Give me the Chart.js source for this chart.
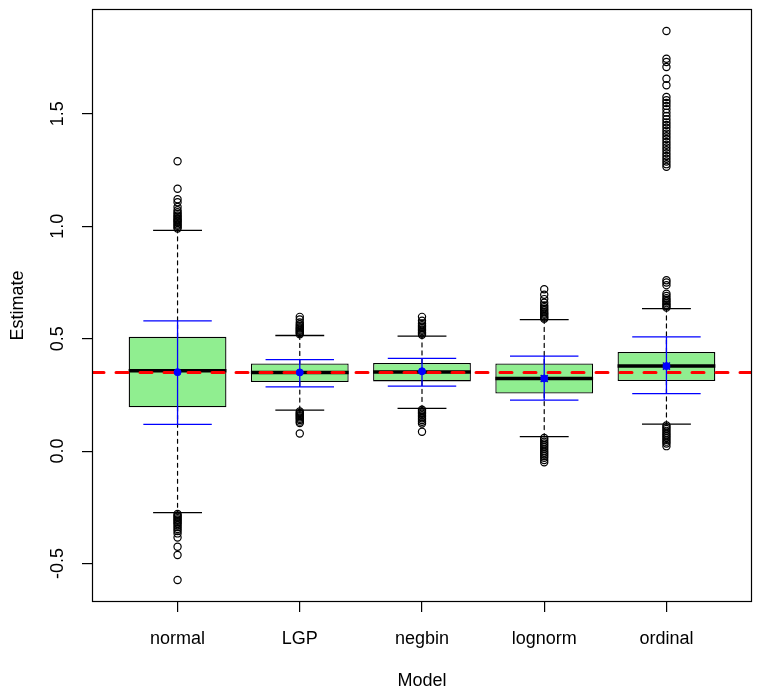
<!DOCTYPE html>
<html>
<head>
<meta charset="utf-8">
<script src="https://cdn.jsdelivr.net/npm/chart.js@4.4.1/dist/chart.umd.min.js"></script>
<style>
  body { margin: 0; background: #fff; }
</style>
</head>
<body>
<canvas id="chart" width="762" height="695"></canvas>
<script>
// values
const models = ["normal", "LGP", "negbin", "lognorm", "ordinal"];
const q1 = [0.195, 0.307, 0.310, 0.256, 0.312];
const medians = [0.357, 0.350, 0.352, 0.323, 0.378];
const q3 = [0.508, 0.390, 0.392, 0.390, 0.441];
const whiskerLow = [-0.274, 0.182, 0.190, 0.064, 0.120];
const whiskerHigh = [0.982, 0.514, 0.511, 0.585, 0.634];
const means = [0.351, 0.350, 0.355, 0.323, 0.378];
const sdLow = [0.119, 0.286, 0.289, 0.227, 0.256];
const sdHigh = [0.579, 0.407, 0.412, 0.422, 0.508];
const crossMarked = [false, false, false, true, true];
const trueValue = 0.35;
const yTicks = [-0.5, 0.0, 0.5, 1.0, 1.5];

const outNormal = [1.289, 1.167, 1.120, 1.107, 1.086, 1.071, 1.062, 1.055, 1.048, 1.042,
  1.036, 1.030, 1.025, 1.020, 1.014, 1.008, 1.002, 0.996, 0.990,
  -0.280, -0.286, -0.292, -0.298, -0.304, -0.310, -0.316, -0.322, -0.330, -0.338,
  -0.346, -0.355, -0.366, -0.384, -0.425, -0.462, -0.573];
const outLGP = [0.597, 0.585, 0.572, 0.563, 0.556, 0.550, 0.545, 0.540, 0.535, 0.530,
  0.525, 0.520, 0.176, 0.170, 0.165, 0.160, 0.155, 0.150, 0.144, 0.138, 0.131, 0.125, 0.078];
const outNegbin = [0.597, 0.580, 0.568, 0.560, 0.553, 0.547, 0.541, 0.535, 0.529, 0.523,
  0.517, 0.184, 0.178, 0.172, 0.166, 0.160, 0.153, 0.146, 0.138, 0.130, 0.123, 0.086];
const outLognorm = [0.720, 0.695, 0.676, 0.660, 0.648, 0.640, 0.632, 0.625, 0.618, 0.612,
  0.606, 0.600, 0.594, 0.589, 0.058, 0.050, 0.042, 0.034, 0.026, 0.018, 0.010, 0.002,
  -0.006, -0.014, -0.022, -0.030, -0.040, -0.050];
const outOrdinal = [1.868, 1.745, 1.730, 1.708, 1.656, 1.627, 1.575, 1.560, 1.548, 1.535,
  1.520, 1.505, 1.490, 1.476, 1.462, 1.450, 1.438, 1.425, 1.412, 1.400, 1.388, 1.375,
  1.362, 1.350, 1.338, 1.325, 1.312, 1.300, 1.288, 1.276, 1.264,
  0.760, 0.750, 0.738, 0.700, 0.690, 0.680, 0.672, 0.665, 0.658, 0.651, 0.644, 0.638,
  0.114, 0.106, 0.098, 0.090, 0.082, 0.074, 0.066, 0.058, 0.050, 0.042, 0.034, 0.022];
const outliers = [outNormal, outLGP, outNegbin, outLognorm, outOrdinal];

// R-style axis ranges (4% padding)
const xMin = 0.3, xMax = 5.7;
const yMin = -0.671, yMax = 1.966;

const pos = models.map((m, i) => i + 1);

// helper: list of segments -> points with null gaps
function segments(list) {
  const pts = [];
  list.forEach(s => {
    pts.push({ x: s[0], y: s[1] }, { x: s[2], y: s[3] }, { x: s[2], y: null });
  });
  return pts;
}

function lineSet(data, color, width, dash, order) {
  return {
    type: "line",
    data: data,
    borderColor: color,
    borderWidth: width,
    borderDash: dash || [],
    borderCapStyle: dash ? "round" : "butt",
    pointRadius: 0,
    fill: false,
    spanGaps: false,
    tension: 0,
    order: order
  };
}

const medianSegs = segments(pos.map((x, i) => [x - 0.4, medians[i], x + 0.4, medians[i]]));
const whiskerSegs = segments(pos.flatMap((x, i) => [
  [x, q3[i], x, whiskerHigh[i]],
  [x, q1[i], x, whiskerLow[i]]
]));
const capSegs = segments(pos.flatMap((x, i) => [
  [x - 0.2, whiskerHigh[i], x + 0.2, whiskerHigh[i]],
  [x - 0.2, whiskerLow[i], x + 0.2, whiskerLow[i]]
]));
const sdSegs = segments(pos.flatMap((x, i) => [
  [x, sdLow[i], x, sdHigh[i]],
  [x - 0.28, sdLow[i], x + 0.28, sdLow[i]],
  [x - 0.28, sdHigh[i], x + 0.28, sdHigh[i]]
]));
const refSeg = [{ x: xMin, y: trueValue }, { x: xMax, y: trueValue }];

const outlierPts = pos.flatMap((x, i) => outliers[i].map(v => ({ x: x, y: v })));
const meanPts = pos.map((x, i) => ({ x: x, y: means[i] }));
const crossPts = pos.filter((x, i) => crossMarked[i]).map(x => ({ x: x, y: means[x - 1] }));

// frame around the plot area, like R's box()
const framePlugin = {
  id: "frame",
  afterDatasetsDraw(chart) {
    const a = chart.chartArea;
    const ctx = chart.ctx;
    ctx.save();
    ctx.strokeStyle = "#000";
    ctx.lineWidth = 1.2;
    ctx.strokeRect(Math.round(a.left) + 0.5, Math.round(a.top) + 0.5,
      Math.round(a.right - a.left) - 1, Math.round(a.bottom - a.top) - 1);
    ctx.restore();
  }
};

// drop the label overhang padding so the plot box sits where R puts it
function noOverhang(scale) {
  scale.paddingTop = 0;
  scale.paddingBottom = 0;
  scale.paddingLeft = 0;
  scale.paddingRight = 0;
}

Chart.defaults.font.family = "'Liberation Sans', Arial, sans-serif";
Chart.defaults.font.size = 18;
Chart.defaults.color = "#000";

new Chart(document.getElementById("chart"), {
  type: "scatter",
  data: {
    datasets: [
      {
        type: "scatter",
        data: meanPts,
        pointStyle: "circle",
        pointRadius: 3.5,
        pointBackgroundColor: "#0000FF",
        pointBorderColor: "#0000FF",
        order: 0
      },
      {
        type: "scatter",
        data: crossPts,
        pointStyle: "crossRot",
        pointRadius: 5,
        pointBorderColor: "#1010B0",
        pointBorderWidth: 1.5,
        order: 0
      },
      lineSet(sdSegs, "#0000FF", 1.3, null, 1),
      lineSet(refSeg, "#FF0000", 3, [12, 12], 2),
      {
        type: "scatter",
        data: outlierPts,
        pointStyle: "circle",
        pointRadius: 3.6,
        pointBackgroundColor: "rgba(0,0,0,0)",
        pointBorderColor: "#000",
        pointBorderWidth: 1.2,
        order: 3
      },
      lineSet(medianSegs, "#000", 3.5, null, 4),
      lineSet(capSegs, "#000", 1.3, null, 4),
      lineSet(whiskerSegs, "#000", 1.2, [4, 4], 5),
      {
        type: "bar",
        data: pos.map((x, i) => ({ x: x, y: [q1[i], q3[i]] })),
        backgroundColor: "#90EE90",
        borderColor: "#000",
        borderWidth: 1.3,
        borderSkipped: false,
        barPercentage: 0.8,
        categoryPercentage: 1,
        order: 6
      }
    ]
  },
  options: {
    responsive: false,
    animation: false,
    events: [],
    layout: { padding: { top: 9, right: 10, left: 0, bottom: 0 } },
    plugins: {
      legend: { display: false },
      tooltip: { enabled: false }
    },
    scales: {
      x: {
        type: "linear",
        min: xMin,
        max: xMax,
        offset: false,
        afterBuildTicks: scale => { scale.ticks = pos.map(v => ({ value: v })); },
        afterFit: scale => { scale.height = 93; noOverhang(scale); },
        ticks: {
          padding: 16,
          callback: v => models[v - 1]
        },
        grid: { offset: false, drawOnChartArea: false, drawTicks: true, tickLength: 10, color: "#000", lineWidth: 1.2 },
        border: { display: false },
        title: { display: true, text: "Model", padding: { top: 0, bottom: 3 } }
      },
      y: {
        type: "linear",
        min: yMin,
        max: yMax,
        afterBuildTicks: scale => { scale.ticks = yTicks.map(v => ({ value: v })); },
        afterFit: scale => { scale.width = 92; noOverhang(scale); },
        ticks: {
          minRotation: 90,
          maxRotation: 90,
          crossAlign: "center",
          padding: 8,
          callback: v => v.toFixed(1)
        },
        grid: { drawOnChartArea: false, drawTicks: true, tickLength: 10, color: "#000", lineWidth: 1.2 },
        border: { display: false },
        title: { display: true, text: "Estimate", padding: { top: 7, bottom: 0 } }
      }
    }
  },
  plugins: [framePlugin]
});
</script>
</body>
</html>
